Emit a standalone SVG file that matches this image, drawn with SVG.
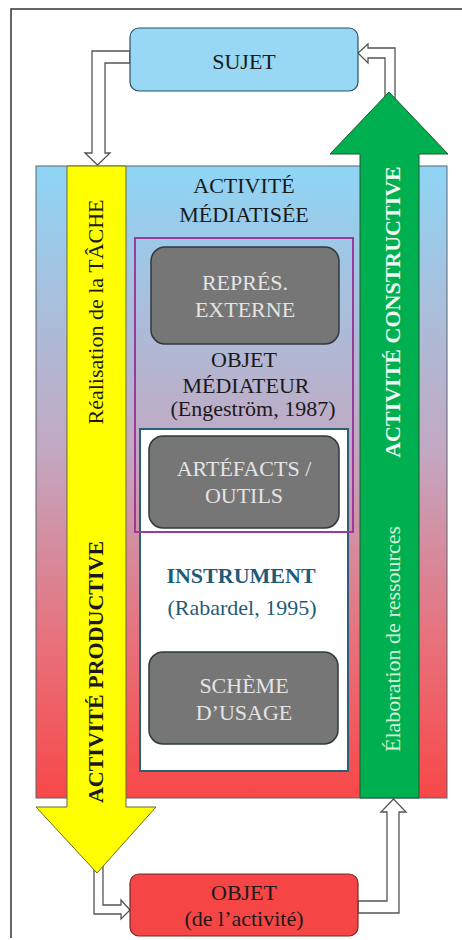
<svg xmlns="http://www.w3.org/2000/svg" width="462" height="940" viewBox="0 0 462 940" font-family="'Liberation Serif', 'Times New Roman', 'DejaVu Serif', serif">
  <defs>
    <linearGradient id="bgGrad" x1="0" y1="0" x2="0" y2="1">
      <stop offset="0" stop-color="#8fd5f5"/>
      <stop offset="0.45" stop-color="#c3a8c2"/>
      <stop offset="0.75" stop-color="#e7717c"/>
      <stop offset="1" stop-color="#f84848"/>
    </linearGradient>
    <style>
      text { font-family: 'Liberation Serif', 'Times New Roman', 'DejaVu Serif', serif; font-size: 22px; text-anchor: middle; }
      .dark { fill: #1a1a1a; }
      .light { fill: #e4e4e4; }
      .bold { font-weight: bold; }
      .gray { fill: #767676; stroke: #2c3a3e; stroke-width: 1.5; }
      .hollow { fill: #ffffff; stroke: #555555; stroke-width: 1.3; stroke-linejoin: miter; }
    </style>
  </defs>

  <!-- page frame -->
  <path d="M11,938 V9 H462" fill="none" stroke="#333333" stroke-width="1.5"/>

  <!-- mediated activity background -->
  <g id="activite-mediatisee">
    <rect x="36" y="166" width="411" height="632" fill="url(#bgGrad)" stroke="#5a6470" stroke-width="1"/>
    <text class="dark" x="244" y="193">ACTIVITÉ</text>
    <text class="dark" x="244" y="222">MÉDIATISÉE</text>
  </g>

  <!-- instrument frame -->
  <g id="instrument">
    <rect x="140" y="429" width="208" height="342" fill="#ffffff" stroke="#2b5f7c" stroke-width="2"/>
    <text class="bold" x="241" y="583" fill="#1f5b78">INSTRUMENT</text>
    <text x="242" y="615" fill="#1f5b78">(Rabardel, 1995)</text>
  </g>

  <!-- mediating object frame -->
  <g id="objet-mediateur">
    <rect x="135" y="238" width="218" height="294" fill="none" stroke="#9a3a9a" stroke-width="2"/>
    <text class="dark" x="244" y="367">OBJET</text>
    <text class="dark" x="246" y="393">MÉDIATEUR</text>
    <text class="dark" x="253" y="416">(Engeström, 1987)</text>
  </g>

  <g id="repres-externe">
    <rect class="gray" x="151" y="247" width="188" height="97" rx="14"/>
    <text class="light" x="245" y="290">REPRÉS.</text>
    <text class="light" x="245" y="317">EXTERNE</text>
  </g>

  <g id="artefacts-outils">
    <rect class="gray" x="149" y="436" width="190" height="92" rx="14"/>
    <text class="light" x="244" y="476">ARTÉFACTS /</text>
    <text class="light" x="244" y="503">OUTILS</text>
  </g>

  <g id="scheme-usage">
    <rect class="gray" x="149" y="652" width="189" height="92" rx="14"/>
    <text class="light" x="244" y="693">SCHÈME</text>
    <text class="light" x="244" y="720">D’USAGE</text>
  </g>

  <!-- hollow block connectors -->
  <g id="connectors">
    <polygon class="hollow" points="130,51 92,51 92,153 85,153 97.5,165 110,153 105,153 105,63 130,63"/>
    <polygon class="hollow" points="385,100 385,58 368,58 368,63 358,53 368,44 368,48 395,48 395,100"/>
    <polygon class="hollow" points="94,860 94,914 121,914 121,919 130,910 121,900 121,905 103,905 103,860"/>
    <polygon class="hollow" points="358,913 399,913 399,812 406,812 393.5,799 381,812 387,812 387,901 358,901"/>
  </g>

  <!-- productive activity arrow -->
  <g id="activite-productive">
    <polygon points="67,166 126,166 126,807 156,807 97,873 36,807 67,807" fill="#ffff00" stroke="#6b6b2a" stroke-width="1"/>
    <text class="dark" transform="translate(103,312) rotate(-90)">Réalisation de la TÂCHE</text>
    <text class="dark bold" transform="translate(103,672) rotate(-90)">ACTIVITÉ PRODUCTIVE</text>
  </g>

  <!-- constructive activity arrow -->
  <g id="activite-constructive">
    <polygon points="360,798 360,154 330,154 389,92 448,154 419,154 419,798" fill="#00b050" stroke="#1d5a32" stroke-width="1"/>
    <text class="bold" fill="#f2f7f2" transform="translate(400,312) rotate(-90)">ACTIVITÉ CONSTRUCTIVE</text>
    <text fill="#d6efd8" transform="translate(400,639) rotate(-90)">Élaboration de ressources</text>
  </g>

  <g id="sujet">
    <rect x="130" y="28" width="228" height="63" rx="9" fill="#98d8f4" stroke="#2d4f66" stroke-width="1.2"/>
    <text class="dark" x="244" y="69">SUJET</text>
  </g>

  <g id="objet">
    <rect x="130" y="874" width="228" height="62" rx="9" fill="#f64545" stroke="#7a2828" stroke-width="1.2"/>
    <text class="dark" x="244" y="900">OBJET</text>
    <text class="dark" x="244" y="926">(de l’activité)</text>
  </g>
</svg>
